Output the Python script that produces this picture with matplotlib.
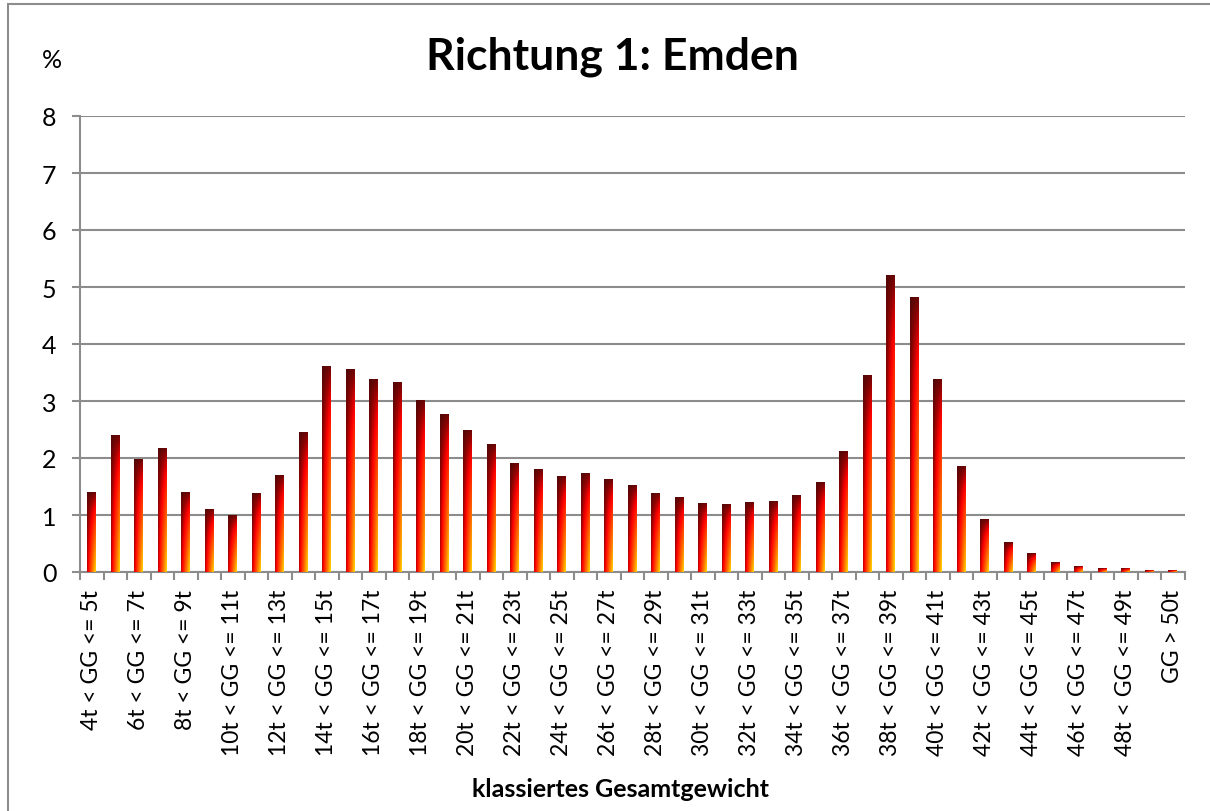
import matplotlib
matplotlib.use('Agg')
import matplotlib.pyplot as plt
import numpy as np
from matplotlib.colors import LinearSegmentedColormap
from matplotlib.patches import Rectangle

# Klassen des Gesamtgewichts (GG) und Anteil in %
klassen = ['%dt < GG <= %dt' % (i, i + 1) for i in range(4, 50)] + ['GG > 50t']
anteile = [1.40, 2.40, 1.98, 2.16, 1.40, 1.09, 1.00, 1.37, 1.70, 2.45,
           3.60, 3.56, 3.38, 3.33, 3.01, 2.77, 2.49, 2.24, 1.91, 1.80,
           1.68, 1.72, 1.62, 1.51, 1.38, 1.31, 1.21, 1.19, 1.22, 1.23,
           1.35, 1.57, 2.11, 3.45, 5.20, 4.82, 3.38, 1.85, 0.92, 0.52,
           0.32, 0.16, 0.10, 0.06, 0.06, 0.02, 0.02]
y_ticks = [0, 1, 2, 3, 4, 5, 6, 7, 8]

plt.rcParams['font.family'] = ['Lato', 'DejaVu Sans']

fig = plt.figure(figsize=(12.1, 8.12), dpi=100)
ax = fig.add_axes([80 / 1210, 1 - 573 / 812, 1104.5 / 1210, 456 / 812])

# Farbverlauf wie im Excel-Diagramm: dunkelrot -> rot -> orange -> gelb
cmap = LinearSegmentedColormap.from_list(
    'glut', [(0.0, '#4a0808'), (0.12, '#8b0303'), (0.3, '#ff0000'),
             (0.65, '#ff6a00'), (1.0, '#ffd700')])
nx, ny = 20, 80
xf = np.linspace(0, 1, nx)[None, :]
yf = np.linspace(0, 1, ny)[:, None]   # 0 = oben, 1 = unten
s = (0.2 + 0.8 * xf) * (0.03 + 0.97 * yf) ** 0.75
grad = cmap(s)

x = np.arange(len(klassen))
bars = ax.bar(x, anteile, width=0.38, color='none', edgecolor='none', zorder=3)
for b in bars:
    x0, w, h = b.get_x(), b.get_width(), b.get_height()
    ax.imshow(grad, extent=[x0, x0 + w, 0, h], aspect='auto',
              interpolation='bilinear', zorder=3)

ax.set_xlim(-0.5, len(klassen) - 0.5)
ax.set_ylim(0, 8)
ax.set_aspect('auto')

# Achsen
ax.set_yticks(y_ticks)
ax.yaxis.grid(True, color='#8c8c8c', linewidth=1.5, zorder=0)
ax.set_axisbelow(True)
for sp in ['top', 'right']:
    ax.spines[sp].set_visible(False)
for sp in ['left', 'bottom']:
    ax.spines[sp].set_color('#8c8c8c')
    ax.spines[sp].set_linewidth(1.5)
ax.tick_params(axis='y', length=6, width=1.5, color='#8c8c8c', pad=11,
               labelsize=18)

ax.set_xticks(x[::2])
ax.set_xticklabels(klassen[::2], rotation=90, va='top', ha='center')
ax.set_xticks(np.arange(-0.5, len(klassen)), minor=True)
ax.tick_params(axis='x', which='major', length=0, pad=12, labelsize=16.5)
ax.tick_params(axis='x', which='minor', length=6, width=1.5, color='#8c8c8c')

fig.text(612 / 1210, 1 - 57 / 812, 'Richtung 1: Emden', ha='center', va='center',
         fontsize=32, fontweight='bold')
fig.text(52 / 1210, 1 - 60 / 812, '%', ha='center', va='center', fontsize=18)
fig.text(620 / 1210, 1 - 790 / 812, 'klassiertes Gesamtgewicht', ha='center',
         va='center', fontsize=18, fontweight='bold')

# Rahmen des Diagrammbereichs
fig.patches.append(Rectangle((8 / 1210, -0.05), 1.2, 1 - 5 / 812 + 0.05,
                             transform=fig.transFigure, fill=False,
                             edgecolor='#8c8c8c', linewidth=1.5))

fig.savefig('out.png', dpi=100)
